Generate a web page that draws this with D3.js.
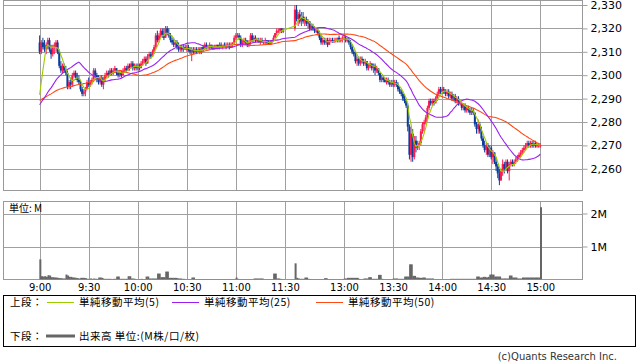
<!DOCTYPE html>
<html><head><meta charset="utf-8">
<script src="https://cdn.jsdelivr.net/npm/d3@7"></script>
<style>body{margin:0;background:#fff}svg{display:block}</style>
</head><body><svg id="c" width="638" height="362"></svg>
<script>
// ---------- DATA ----------
const prevCloses=[2292,2293,2292,2291,2292,2293,2292,2291,2290,2291,2292,2291,2292,2291,2290,2291,2292,2291,2290,2291,2292,2291,2290,2289,2290,
2288,2287,2286,2287,2286,2285,2286,2287,2286,2285,2286,2287,2286,2287,2286,2285,2286,2287,2286,2287,2288,2287,2286,2287,2288];
const amStart="9:00", pmStart="12:30";
const amOpen=[2314,2310,2314,2312,2311,2313,2315,2311,2309,2312,2312,2314,2310,2304,2302,2304,2302,2301,2295,2297,
2296,2300,2301,2299,2298,2297,2294,2292,2293,2294,2297,2296,2297,2298,2302,2300,2298,2297,2299,2296,
2298,2300,2301,2300,2302,2301,2302,2303,2301,2300,2301,2300,2302,2303,2302,2304,2303,2305,2303,2304,
2303,2304,2303,2305,2306,2307,2305,2308,2309,2308,2310,2312,2317,2315,2317,2319,2317,2316,2320,2318,
2317,2315,2314,2313,2314,2312,2311,2312,2311,2312,2311,2312,2311,2310,2311,2310,2311,2310,2311,2310,
2312,2311,2313,2312,2312,2313,2312,2311,2312,2313,2312,2313,2312,2313,2312,2313,2313,2312,2313,2314,
2316,2317,2317,2316,2313,2314,2315,2314,2313,2314,2317,2315,2316,2315,2315,2314,2315,2314,2314,2315,
2314,2313,2314,2315,2316,2318,2319,2319,2320,2319];
const amHigh=[2317,2315,2316,2315,2314,2316,2316,2313,2313,2314,2315,2315,2311,2306,2305,2305,2304,2302,2298,2299,
2301,2302,2302,2301,2300,2298,2295,2294,2295,2298,2299,2298,2299,2303,2303,2301,2300,2300,2300,2299,
2301,2302,2302,2303,2303,2303,2304,2303,2302,2302,2302,2303,2304,2304,2305,2305,2306,2306,2305,2305,
2305,2305,2306,2307,2308,2308,2309,2310,2310,2311,2313,2318,2319,2318,2320,2320,2320,2321,2321,2320,
2318,2316,2316,2315,2315,2314,2313,2313,2313,2313,2313,2313,2312,2312,2312,2312,2312,2312,2312,2312,
2313,2314,2314,2313,2314,2313,2313,2313,2313,2313,2314,2314,2313,2314,2314,2314,2314,2314,2314,2317,
2318,2318,2318,2317,2315,2316,2316,2315,2315,2318,2318,2317,2317,2316,2316,2316,2316,2315,2316,2315,
2315,2315,2315,2317,2318,2320,2320,2320,2320,2320];
const amLow=[2309,2309,2311,2310,2309,2311,2310,2307,2308,2309,2310,2309,2303,2301,2301,2301,2300,2294,2294,2294,
2295,2299,2298,2297,2296,2293,2291,2291,2291,2294,2295,2295,2296,2297,2299,2297,2296,2296,2295,2294,
2297,2299,2299,2300,2300,2300,2301,2300,2299,2299,2299,2300,2301,2301,2302,2302,2303,2302,2302,2302,
2302,2302,2303,2304,2305,2304,2305,2307,2307,2308,2309,2311,2314,2314,2316,2316,2315,2316,2317,2316,
2314,2313,2312,2312,2311,2310,2310,2310,2310,2311,2310,2310,2309,2306,2309,2309,2309,2310,2309,2309,
2310,2311,2311,2311,2311,2311,2311,2311,2311,2311,2311,2312,2311,2312,2311,2312,2311,2312,2312,2313,
2315,2316,2315,2312,2312,2313,2313,2312,2312,2313,2314,2314,2314,2314,2314,2313,2314,2313,2313,2313,
2313,2313,2313,2315,2316,2317,2318,2318,2318,2318];
const amClose=[2310,2314,2312,2311,2313,2315,2311,2309,2312,2313,2314,2310,2304,2302,2304,2302,2301,2295,2297,2296,
2300,2301,2299,2298,2297,2294,2292,2293,2294,2297,2296,2297,2298,2302,2300,2298,2297,2299,2296,2298,
2300,2301,2300,2302,2301,2302,2303,2301,2300,2301,2300,2302,2303,2302,2304,2303,2305,2303,2304,2303,
2304,2303,2305,2306,2307,2305,2308,2309,2308,2310,2312,2317,2315,2317,2319,2317,2316,2320,2318,2317,
2315,2314,2313,2314,2312,2311,2312,2311,2312,2311,2312,2311,2310,2311,2310,2311,2310,2311,2310,2312,
2311,2313,2312,2312,2313,2312,2311,2312,2313,2312,2313,2312,2313,2312,2313,2313,2312,2313,2314,2316,
2317,2317,2316,2313,2314,2315,2314,2313,2314,2317,2315,2316,2315,2315,2314,2315,2314,2314,2315,2314,
2313,2314,2315,2316,2318,2319,2319,2320,2319,2319];
const amVol=[0.61,0.10,0.09,0.10,0.08,0.13,0.12,0.07,0.07,0.06,0.06,0.05,0.04,0.04,0.03,0.03,0.15,0.12,0.08,0.08,
0.06,0.06,0.05,0.04,0.03,0.05,0.05,0.05,0.04,0.02,0.02,0.03,0.02,0.03,0.02,0.02,0.06,0.06,0.05,0.02,
0.02,0.02,0.02,0.02,0.01,0.02,0.02,0.09,0.09,0.02,0.02,0.02,0.02,0.02,0.10,0.10,0.03,0.03,0.02,0.01,
0.01,0.01,0.02,0.01,0.01,0.09,0.09,0.03,0.03,0.03,0.03,0.03,0.18,0.18,0.07,0.07,0.07,0.24,0.24,0.05,
0.05,0.05,0.05,0.05,0.04,0.03,0.03,0.02,0.02,0.01,0.01,0.01,0.01,0.06,0.06,0.01,0.01,0.01,0.01,0.01,
0.01,0.01,0.01,0.01,0.01,0.01,0.01,0.01,0.01,0.01,0.01,0.01,0.01,0.01,0.01,0.01,0.01,0.01,0.01,0.01,
0.06,0.02,0.01,0.01,0.01,0.01,0.01,0.01,0.01,0.01,0.01,0.03,0.03,0.03,0.03,0.03,0.03,0.01,0.01,0.01,
0.01,0.01,0.01,0.18,0.18,0.03,0.03,0.02,0.01,0.01];
const pmOpen=[2320,2328,2324,2326,2323,2325,2323,2324,2322,2323,2320,2321,2320,2319,2319,2318,2316,2314,2315,2314,
2315,2313,2315,2315,2314,2315,2315,2316,2315,2315,2316,2316,2315,2315,2314,2312,2310,2309,2306,2307,
2305,2307,2306,2305,2306,2303,2304,2305,2303,2304,2302,2303,2301,2298,2299,2298,2297,2298,2297,2296,
2297,2296,2297,2296,2294,2293,2292,2290,2289,2287,2278,2266,2275,2265,2272,2269,2270,2271,2276,2279,
2280,2282,2286,2289,2288,2289,2288,2290,2292,2294,2293,2294,2293,2292,2293,2291,2292,2290,2291,2289,
2290,2288,2288,2286,2287,2285,2286,2285,2284,2285,2284,2279,2277,2279,2276,2273,2270,2268,2270,2266,
2269,2265,2267,2263,2261,2258,2255,2259,2262,2260,2263,2259,2262,2263,2262,2263,2264,2265,2266,2267,
2268,2269,2270,2271,2270,2271,2270,2271,2270,2270,2270];
const pmHigh=[2330,2330,2327,2328,2327,2327,2325,2325,2324,2323,2322,2322,2321,2320,2320,2319,2317,2316,2316,2316,
2316,2316,2316,2316,2316,2316,2316,2317,2316,2317,2317,2317,2316,2316,2315,2313,2311,2310,2308,2308,
2308,2308,2307,2307,2306,2305,2306,2305,2305,2305,2304,2303,2301,2300,2300,2299,2299,2299,2298,2298,
2298,2298,2298,2297,2295,2294,2293,2292,2290,2288,2279,2278,2277,2274,2274,2272,2272,2277,2280,2281,
2283,2287,2290,2290,2290,2290,2291,2293,2295,2295,2295,2295,2294,2294,2294,2293,2293,2292,2292,2291,
2291,2289,2288,2288,2288,2287,2287,2286,2286,2286,2284,2280,2281,2280,2278,2274,2272,2271,2271,2270,
2270,2268,2267,2265,2262,2260,2260,2264,2263,2264,2264,2263,2264,2264,2264,2265,2266,2267,2268,2269,
2270,2271,2272,2272,2272,2272,2272,2272,2271,2271,2271];
const pmLow=[2319,2323,2321,2322,2321,2322,2321,2321,2320,2319,2319,2319,2318,2318,2317,2315,2313,2313,2313,2313,
2312,2313,2314,2314,2314,2314,2314,2314,2314,2314,2315,2314,2314,2313,2311,2309,2308,2305,2304,2304,
2304,2305,2304,2304,2302,2302,2303,2302,2301,2300,2301,2300,2297,2297,2297,2297,2296,2296,2295,2295,
2295,2295,2295,2293,2292,2291,2289,2288,2286,2276,2264,2263,2263,2264,2267,2268,2268,2270,2275,2276,
2279,2281,2285,2287,2287,2287,2288,2289,2291,2292,2292,2292,2291,2291,2290,2290,2289,2289,2288,2288,
2287,2287,2285,2285,2284,2284,2284,2283,2283,2283,2278,2275,2275,2275,2272,2269,2267,2266,2265,2265,
2264,2262,2262,2259,2256,2253,2255,2257,2258,2259,2258,2255,2261,2261,2261,2262,2263,2264,2265,2266,
2267,2268,2269,2269,2269,2269,2269,2269,2269,2269,2269];
const pmClose=[2328,2324,2326,2323,2325,2323,2324,2322,2323,2320,2321,2320,2319,2319,2318,2316,2314,2315,2314,2315,
2313,2315,2315,2314,2315,2315,2316,2315,2315,2316,2316,2315,2315,2314,2312,2310,2309,2306,2307,2305,
2307,2306,2305,2306,2303,2304,2305,2303,2304,2302,2303,2301,2298,2299,2298,2297,2298,2297,2296,2297,
2296,2297,2296,2294,2293,2292,2290,2289,2287,2278,2266,2275,2265,2272,2269,2270,2271,2276,2279,2280,
2282,2286,2289,2288,2289,2288,2290,2292,2294,2293,2294,2293,2292,2293,2291,2292,2290,2291,2289,2290,
2288,2288,2286,2287,2285,2286,2285,2284,2285,2284,2279,2277,2279,2276,2273,2270,2268,2270,2266,2269,
2265,2267,2263,2261,2258,2255,2259,2262,2260,2263,2259,2262,2263,2262,2263,2264,2265,2266,2267,2268,
2269,2270,2271,2270,2271,2270,2271,2270,2270,2270,2270];
const pmVol=[0.49,0.05,0.03,0.02,0.02,0.02,0.06,0.06,0.02,0.01,0.01,0.01,0.01,0.01,0.01,0.01,0.01,0.01,0.04,0.04,
0.01,0.01,0.01,0.01,0.01,0.01,0.01,0.01,0.01,0.01,0.03,0.03,0.05,0.05,0.05,0.05,0.05,0.05,0.05,0.02,
0.01,0.01,0.03,0.03,0.03,0.07,0.07,0.02,0.02,0.02,0.02,0.14,0.14,0.02,0.01,0.01,0.01,0.01,0.01,0.01,
0.03,0.03,0.03,0.02,0.02,0.02,0.02,0.09,0.09,0.09,0.46,0.46,0.11,0.11,0.06,0.06,0.05,0.05,0.06,0.06,
0.03,0.03,0.03,0.03,0.03,0.01,0.01,0.01,0.01,0.01,0.01,0.01,0.01,0.01,0.01,0.02,0.02,0.02,0.02,0.02,
0.02,0.02,0.02,0.02,0.02,0.02,0.02,0.02,0.02,0.02,0.02,0.09,0.09,0.06,0.06,0.08,0.08,0.06,0.08,0.15,
0.15,0.15,0.09,0.09,0.09,0.09,0.03,0.03,0.03,0.03,0.03,0.12,0.12,0.06,0.06,0.06,0.03,0.03,0.03,0.06,
0.06,0.06,0.06,0.06,0.06,0.06,0.06,0.06,0.06,0.06,2.19];
const priceTicks=[2260,2270,2280,2290,2300,2310,2320,2330];
const volTicks=[1,2];
const timeTicks=["9:00","9:30","10:00","10:30","11:00","11:30","13:00","13:30","14:00","14:30","15:00"];
const maSeries=[{label:"単純移動平均(5)",period:5,color:"#9ccc00"},
                {label:"単純移動平均(25)",period:25,color:"#9a1ff0"},
                {label:"単純移動平均(50)",period:50,color:"#ff4a14"}];

// ---------- BUILD ----------
const toMin=t=>{const [h,m]=t.split(":").map(Number);return (h-9)*60+m;};
const bars=[];
amOpen.forEach((o,i)=>bars.push({t:toMin(amStart)+i,o,h:amHigh[i],l:amLow[i],c:amClose[i],v:amVol[i]}));
pmOpen.forEach((o,i)=>bars.push({t:toMin(pmStart)+i,o,h:pmHigh[i],l:pmLow[i],c:pmClose[i],v:pmVol[i]}));
const allC=prevCloses.concat(bars.map(b=>b.c));
const np=prevCloses.length;
maSeries.forEach(s=>{s.values=bars.map((b,i)=>({t:b.t,v:d3.mean(allC.slice(np+i-s.period+1,np+i+1))}));});

const UP="#ff1a50", DOWN="#0c3c9c", GRID="#a0a0a0", NUMF="DejaVu Sans, sans-serif", JPF="'Noto Sans CJK JP', sans-serif";
const L=3.5,R=582.5,T=0.5,B=190.5,VT=201.5,VB=279.5;
const svg=d3.select("#c");
const x=d3.scaleLinear().domain([-22.1,150,210,385.8]).range([L,284.9,294.9,R]);
const y=d3.scaleLinear().domain([2260,2330]).range([168.8,5]);
const yv=d3.scaleLinear().domain([0,2]).range([VB,213.5]);
const px=v=>Math.round(v)+0.5;

svg.append("defs").html(`<clipPath id="cp"><rect x="${L}" y="${T}" width="${R-L}" height="${B-T}"/></clipPath>
<clipPath id="cv"><rect x="${L}" y="${VT}" width="${R-L}" height="${VB-VT}"/></clipPath>`);

// grid main
const g=svg.append("g");
g.selectAll(".hx").data(timeTicks).join("line").attr("x1",d=>px(x(toMin(d)))).attr("x2",d=>px(x(toMin(d))))
 .attr("y1",T).attr("y2",B).attr("stroke",GRID);
g.selectAll(".hy").data(priceTicks).join("line").attr("x1",L).attr("x2",R).attr("y1",d=>px(y(d))).attr("y2",d=>px(y(d))).attr("stroke",GRID);
g.append("rect").attr("x",L).attr("y",T).attr("width",R-L).attr("height",B-T).attr("fill","none").attr("stroke","#999");
// grid volume
const gv=svg.append("g");
gv.selectAll(".vx").data(timeTicks).join("line").attr("x1",d=>px(x(toMin(d)))).attr("x2",d=>px(x(toMin(d))))
 .attr("y1",VT).attr("y2",VB).attr("stroke",GRID);
gv.selectAll(".vy").data(volTicks).join("line").attr("x1",L).attr("x2",R).attr("y1",d=>px(yv(d))).attr("y2",d=>px(yv(d))).attr("stroke",GRID);
gv.append("rect").attr("x",L).attr("y",VT).attr("width",R-L).attr("height",VB-VT).attr("fill","none").attr("stroke","#999");

// candles
const col=(d,i)=>d.c>d.o?UP:d.c<d.o?DOWN:(i>0&&d.c<bars[i-1].c?DOWN:UP);
const gc=svg.append("g").attr("clip-path","url(#cp)");
gc.selectAll("line").data(bars).join("line").attr("x1",d=>x(d.t)).attr("x2",d=>x(d.t))
 .attr("y1",d=>y(d.h)).attr("y2",d=>y(d.l)).attr("stroke",col).attr("stroke-width",1);
gc.selectAll("rect").data(bars).join("rect").attr("x",d=>x(d.t)-1).attr("width",2)
 .attr("y",d=>y(Math.max(d.o,d.c))).attr("height",d=>Math.max(1,Math.abs(y(d.o)-y(d.c)))).attr("fill",col);

// moving averages
const line=d3.line().x(d=>x(d.t)).y(d=>y(d.v));
[...maSeries].reverse().forEach(s=>{
  gc.append("path").datum(s.values).attr("d",line).attr("fill","none").attr("stroke",s.color).attr("stroke-width",1.1);
});

// volume bars
svg.append("g").attr("clip-path","url(#cv)").selectAll("rect").data(bars).join("rect")
 .attr("x",d=>x(d.t)-0.3).attr("width",2).attr("y",d=>yv(d.v)).attr("height",d=>VB-yv(d.v)).attr("fill","#666");

// axes
const ay=svg.append("g").attr("transform",`translate(${R},0)`)
 .call(d3.axisRight(y).tickValues(priceTicks).tickFormat(d3.format(",")).tickSize(5).tickPadding(3));
const av=svg.append("g").attr("transform",`translate(${R},0)`)
 .call(d3.axisRight(yv).tickValues(volTicks).tickFormat(d=>d+"M").tickSize(5).tickPadding(3));
const ax=svg.append("g").attr("transform",`translate(0,${VB})`)
 .call(d3.axisBottom(x).tickValues(timeTicks.map(toMin)).tickFormat((d,i)=>timeTicks[i]).tickSize(0).tickPadding(4));
[ay,av,ax].forEach(a=>{a.select(".domain").remove();a.selectAll(".tick line").attr("stroke",GRID);
  a.selectAll("text").attr("font-family",NUMF).attr("font-size",11).attr("fill","#000");});
ax.selectAll("text").attr("font-size",10);

svg.append("text").attr("x",9).attr("y",212).attr("font-family",JPF).attr("font-size",10).text("単位: M");

// legend
const lg=svg.append("g").attr("font-family",JPF).attr("font-size",10.5).attr("letter-spacing",0.5);
lg.append("rect").attr("x",3.5).attr("y",295.5).attr("width",632).attr("height",51).attr("fill","none").attr("stroke","#000");
lg.append("text").attr("x",10).attr("y",306).text("上段：");
const lx=[47,172,316];
maSeries.forEach((s,i)=>{
  lg.append("line").attr("x1",lx[i]).attr("x2",lx[i]+27).attr("y1",302.5).attr("y2",302.5).attr("stroke",s.color);
  lg.append("text").attr("x",lx[i]+32).attr("y",306).text(s.label);
});
lg.append("text").attr("x",10).attr("y",340).text("下段：");
lg.append("line").attr("x1",46).attr("x2",75).attr("y1",336).attr("y2",336).attr("stroke","#666").attr("stroke-width",3);
lg.append("text").attr("x",79).attr("y",340).text("出来高 単位:(M株/口/枚)");
svg.append("text").attr("x",617).attr("y",360).attr("text-anchor","end").attr("font-family",NUMF).attr("font-size",10).attr("fill","#333").text("(c)Quants Research Inc.");
</script></body></html>
